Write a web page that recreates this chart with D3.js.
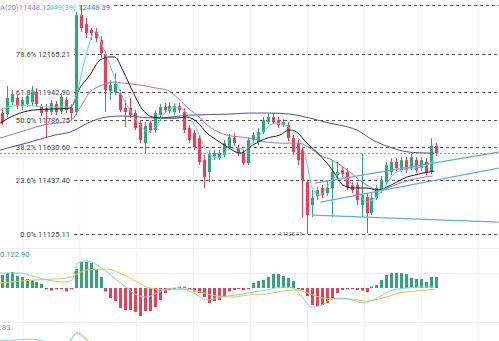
<!DOCTYPE html>
<html><head><meta charset="utf-8">
<script src="https://cdn.jsdelivr.net/npm/d3@7"></script>
<style>html,body{margin:0;padding:0;background:#fff;overflow:hidden}svg{display:block}</style>
</head><body>
<svg id="chart" width="499" height="341"></svg>
<script>
// ---- candles (index 0..88) ----
const opens = [
  11824,11818,11887,11911,11864,11876,11887,11945,11859,11853,
  11830,11876,11835,11899,11853,11830,12390,12338,12304,12292,
  12246,12165,11951,11945,11939,11853,11853,11824,11766,11650,
  11766,11726,11812,11859,11835,11830,11864,11830,11737,11708,
  11679,11552,11483,11575,11564,11581,11627,11679,11622,11593,
  11535,11668,11656,11714,11772,11801,11783,11754,11754,11679,
  11650,11610,11425,11292,11344,11391,11361,11391,11466,11494,
  11483,11408,11408,11292,11338,11246,11333,11379,11425,11483,
  11541,11494,11552,11506,11552,11506,11541,11483,11633];
const closes = [
  11771,11911,11934,11864,11899,11922,11945,11876,11824,11830,
  11882,11830,11917,11841,11824,12390,12315,12286,12286,12257,
  12171,11957,11986,11992,11841,11830,11812,11737,11668,11749,
  11726,11824,11859,11841,11864,11864,11841,11726,11668,11627,
  11541,11454,11593,11593,11593,11650,11685,11650,11593,11535,
  11668,11697,11714,11783,11801,11772,11754,11772,11679,11598,
  11552,11437,11234,11333,11379,11350,11391,11483,11483,11471,
  11396,11379,11321,11350,11246,11333,11391,11437,11523,11541,
  11506,11552,11494,11570,11494,11552,11477,11633,11593];
const highs = [
  11853,11980,11957,11928,11917,11945,11980,11968,11876,11876,
  11899,11893,11939,11917,11876,12408,12448,12373,12315,12315,
  12269,12182,12015,12055,11957,11899,11911,11841,11783,11772,
  11783,11841,11876,11882,11887,11882,11882,11853,11754,11726,
  11697,11581,11610,11610,11610,11668,11703,11708,11639,11610,
  11685,11714,11737,11801,11818,11824,11801,11789,11772,11697,
  11668,11627,11437,11379,11396,11408,11437,11552,11541,11518,
  11506,11425,11425,11593,11356,11367,11408,11460,11541,11564,
  11564,11570,11570,11587,11570,11570,11564,11679,11650];
const lows = [
  11754,11801,11870,11847,11841,11859,11864,11859,11806,11685,
  11812,11812,11818,11824,11783,11812,12292,12257,12246,12234,
  12142,11830,11899,11928,11830,11743,11795,11726,11650,11593,
  11708,11708,11795,11824,11818,11812,11824,11708,11650,11610,
  11523,11391,11425,11552,11552,11570,11610,11633,11575,11523,
  11523,11650,11639,11703,11760,11760,11737,11743,11662,11581,
  11523,11223,11125.11,11223,11321,11333,11344,11223,11448,11454,
  11379,11361,11292,11223,11130,11234,11321,11361,11408,11466,
  11489,11483,11477,11494,11477,11489,11466,11471,11575];

// ---- moving averages, [candle index, price] ----
const ma5 = [[-0.4,11841],[3.65,11870],[9.7,11859],[13.8,11859],[14.8,11899],[16.8,12130],[18.9,12298],
  [20.5,12205],[23.3,11997],[24.5,11916],[26,11841],[28,11754],[29.6,11714],[31.4,11754],[32.7,11812],
  [35.5,11859],[37.5,11824],[39.6,11726],[41.8,11593],[43.8,11564],[45.8,11610],[47.9,11622],[49.3,11610],
  [51.3,11668],[53.3,11726],[55.4,11766],[57.4,11754],[59.4,11708],[60.9,11639],[61.9,11535],[62.9,11396],
  [64.5,11350],[66.5,11419],[68.6,11477],[70.6,11425],[72.2,11379],[74,11309],[75.7,11333],[77.7,11396],
  [79.3,11466],[81.3,11494],[83.4,11506],[85.4,11512],[86.8,11535],[87.8,11552]];
const ma10 = [[-0.4,11766],[2.6,11812],[6.3,11841],[13.8,11853],[15.8,11968],[17.85,12044],[19.9,12130],
  [21.9,12148],[22.9,12148],[24.5,12072],[26.6,11945],[28.6,11841],[30.6,11801],[32.7,11795],[35.5,11795],
  [37.5,11801],[39.6,11772],[41.6,11708],[43.6,11668],[45.8,11627],[48.3,11593],[50.9,11639],[53.8,11679],
  [56.4,11697],[58.4,11726],[59.8,11714],[61.9,11650],[64.5,11581],[67.1,11494],[69.2,11408],[71.2,11391],
  [74,11391],[76.1,11379],[78.1,11396],[80.1,11425],[82.2,11454],[83.8,11466],[85.4,11477],[87.8,11489]];
const ma20 = [[-0.4,11679],[3.65,11714],[8.3,11754],[13.8,11778],[15.8,11853],[17.85,11945],[19.9,11980],
  [22.5,12003],[24.5,11997],[28,11986],[31.4,11968],[33.5,11957],[35.5,11916],[37.5,11859],[39.6,11812],
  [42.2,11743],[45.6,11697],[50.3,11679],[53.8,11656],[57,11650],[60.4,11650],[62.5,11622],[64.5,11581],
  [67.1,11552],[70.6,11483],[74,11408],[76.7,11379],[79.7,11408],[82.8,11437],[87.4,11460]];
const ma60 = [[-0.4,11610],[5.7,11656],[10.75,11697],[13.8,11714],[17.85,11772],[21.3,11801],[24.5,11807],
  [31.4,11795],[38.1,11812],[46.2,11818],[50.3,11824],[54.4,11824],[58.4,11818],[62.5,11795],[66.5,11766],
  [68.6,11754],[72,11726],[75.3,11668],[78.7,11627],[82.8,11598],[86.8,11593],[87.8,11593]];

// ---- Fibonacci retracement ----
const fibLabels = ["0.0%","23.6%","38.2%","50.0%","61.8%","78.6%","100.0%"];
const fibPrices = [11125.11,11437.40,11630.60,11786.75,11942.90,12165.21,12448.39];
const lastPrice = 11593;

// ---- drawn trend lines, [candle index, price] ----
const trendLines = [
  [[63.5,11419],[100.8,11598]],
  [[64.7,11309],[100.8,11506]],
  [[63,11234],[100.8,11194]]];

// ---- MACD ----
const macdHist = [
  65,75,80,60,55,45,40,30,20,-5,-12.5,-2.5,-5,-17.5,-5,
  95,130,130,125,95,55,-17.5,-50,-65,-100,-110,-110,-120,-140,-115,-115,-95,-60,-25,-10,-2.5,2.5,5,-5,-17.5,
  -25,-45,-75,-65,-60,-40,-17.5,-10,-5,-10,-5,25,
  35,40,55,70,70,60,50,35,-2.5,-10,-40,-85,-90,-85,-75,-50,-25,-10,-2.5,-2.5,-10,-12.5,-20,
  7.5,15,40,65,75,75,75,70,50,45,45,30,55,55];
const dif = [[-0.4,75],[3.65,75],[6.3,60],[8.3,45],[13.2,30],[14.2,40],[15.4,125],[17.2,135],[19.3,115],
  [21.3,80],[23.3,40],[25.4,0],[27.4,-35],[29.4,-45],[31.4,-25],[33.5,-5],[35.5,0],[37.5,-10],[39.6,-35],
  [41.6,-60],[43.6,-50],[45.6,-40],[47.7,-35],[49.9,-25],[53.8,-10],[57,5],[59,0],[61.1,-50],[62.9,-95],
  [64.9,-85],[66.5,-60],[68.6,-50],[71.2,-60],[73.2,-75],[75.3,-60],[77.3,-35],[79.3,-10],[82.2,0],
  [85.4,5],[87.8,5]];
const dea = [[-0.4,25],[6.3,40],[13.2,50],[17.2,90],[21.3,95],[23.9,75],[27.4,30],[30,0],[33.5,-10],
  [37.5,-5],[40.2,-20],[43.6,-40],[46.9,-45],[49.9,-35],[53.8,-30],[57,-15],[59.8,-10],[62.5,-30],
  [65.1,-50],[68,-55],[70.6,-55],[74,-65],[77.3,-50],[80.7,-25],[84.2,-15],[87.8,-5]];
const macdText = "0.122.90";

// ---- lower oscillator panel ----
const oscFast = [[-0.4,76],[3,77],[6,78],[9,75],[13.5,74],[15.2,87],[16.5,82],[18.5,70],[22,55]];
const oscSlow = [[10,72],[13.5,75],[15.2,85],[16.5,80],[18.5,72],[21,60]];
const oscText = ".83";

// ---- legend ----
const maLegend = [
  {text:"A(20)11448.12", color:"#9b7fd6"},
  {text:"449(39)", color:"#4fcfc8"}];

const svg = d3.select("#chart");
const W = 499, H = 341;
const FONT = "Roboto, 'Liberation Sans', Arial, sans-serif";

const x = d3.scaleLinear().domain([0, 88]).range([2, 435.5]);
const y = d3.scaleLinear().domain([11125.11, 12448.39]).range([234, 5]);
const yM = d3.scaleLinear().domain([-100, 100]).range([308, 268]);
const yO = d3.scaleLinear().domain([0, 100]).range([400, 322]);

const GREEN = "#36a47a", RED = "#e2435a";

// grid
const g = svg.append("g");
d3.range(4.25, 100, 11.55).forEach(i => {
  g.append("line").attr("x1", x(i)).attr("x2", x(i)).attr("y1", 0).attr("y2", H)
    .attr("stroke", "#f0f0f0").attr("stroke-width", 1);
});
[248, 273, 322].forEach(py => {
  g.append("line").attr("x1", 0).attr("x2", W).attr("y1", py + 0.5).attr("y2", py + 0.5)
    .attr("stroke", "#f0f0f0");
});

// fib levels (the top level shows its price only, beside the legend)
fibPrices.forEach((p, k) => {
  const yy = Math.round(y(p)) + 0.5;
  const top = k === fibPrices.length - 1;
  const labelX = top ? 110 : 70;
  svg.append("line").attr("x1", labelX + 4).attr("x2", W).attr("y1", yy).attr("y2", yy)
    .attr("stroke", "#555").attr("stroke-width", 1).attr("stroke-dasharray", "3,3");
  svg.append("text").attr("x", labelX).attr("y", top ? 10 : yy + 2.6).attr("text-anchor", "end")
    .attr("font-family", FONT).attr("font-size", 7.6).attr("fill", top ? "#6a7fa8" : "#444")
    .text(top ? p.toFixed(2) : fibLabels[k] + " " + p.toFixed(2));
});

// last price line
svg.append("line").attr("x1", 0).attr("x2", W)
  .attr("y1", Math.round(y(lastPrice)) + 0.5).attr("y2", Math.round(y(lastPrice)) + 0.5)
  .attr("stroke", "#ee8c96").attr("stroke-width", 1).attr("stroke-dasharray", "2,2");

// candles
const candles = svg.append("g");
const bw = 3.2;
closes.forEach((c, i) => {
  const o = opens[i], up = c >= o, col = up ? GREEN : RED;
  const cx = Math.round(x(i)) + 0.5;
  candles.append("line").attr("x1", cx).attr("x2", cx).attr("y1", y(highs[i])).attr("y2", y(lows[i]))
    .attr("stroke", col).attr("stroke-width", 1);
  const t = y(Math.max(o, c)), b = y(Math.min(o, c));
  candles.append("rect").attr("x", cx - bw / 2).attr("y", t).attr("width", bw)
    .attr("height", Math.max(1, b - t)).attr("fill", col);
});

// moving averages
const lineOf = (ys) => d3.line().x(d => x(d[0])).y(d => ys(d[1])).curve(d3.curveMonotoneX);
[[ma60, "#5151a6", 1], [ma20, "#9577d6", 1], [ma10, "#1e1e1e", 1], [ma5, "#5fd6d2", 1]]
  .forEach(([pts, col, w]) => {
    svg.append("path").attr("d", lineOf(y)(pts)).attr("fill", "none")
      .attr("stroke", col).attr("stroke-width", w);
  });

// trend lines
trendLines.forEach(seg => {
  svg.append("line").attr("x1", x(seg[0][0])).attr("y1", y(seg[0][1]))
    .attr("x2", x(seg[1][0])).attr("y2", y(seg[1][1]))
    .attr("stroke", "#6aa8e2").attr("stroke-width", 1.2);
});

// swing low tag
svg.append("text").attr("x", x(62) - 5).attr("y", y(11125.11) + 1.5).attr("text-anchor", "end")
  .attr("font-family", FONT).attr("font-size", 5.5).attr("fill", "#666").text("11125.11");

// legend
const offs = [0, 49];
maLegend.forEach((m, k) => {
  svg.append("text").attr("x", offs[k]).attr("y", 10).attr("font-family", FONT)
    .attr("font-size", 7.6).attr("fill", m.color).text(m.text);
});

// MACD panel
const mg = svg.append("g");
macdHist.forEach((v, i) => {
  const cx = Math.round(x(i)) + 0.5;
  const y0 = yM(0), y1 = yM(v);
  const h = Math.max(1.2, Math.abs(y1 - y0));
  mg.append("rect").attr("x", cx - 1.5).attr("width", 3)
    .attr("y", v >= 0 ? y0 - h : y0).attr("height", h)
    .attr("fill", v >= 0 ? GREEN : RED);
});
mg.append("path").attr("d", lineOf(yM)(dea)).attr("fill", "none").attr("stroke", "#f2c14e").attr("stroke-width", 1);
mg.append("path").attr("d", lineOf(yM)(dif)).attr("fill", "none").attr("stroke", "#7fd8d6").attr("stroke-width", 1);
svg.append("text").attr("x", 0).attr("y", 257).attr("font-family", FONT).attr("font-size", 7.6)
  .attr("fill", "#3f9f80").text(macdText);

// lower oscillator panel
svg.append("clipPath").attr("id", "oscClip").append("rect").attr("x", 0).attr("y", 323).attr("width", W).attr("height", 20);
const og = svg.append("g").attr("clip-path", "url(#oscClip)");
og.append("path").attr("d", lineOf(yO)(oscSlow)).attr("fill", "none").attr("stroke", "#f2c14e");
og.append("path").attr("d", lineOf(yO)(oscFast)).attr("fill", "none").attr("stroke", "#7fd8d6");
svg.append("text").attr("x", 0).attr("y", 330).attr("font-family", FONT).attr("font-size", 7.6)
  .attr("fill", "#e45fbf").text(oscText);
</script>
</body></html>
